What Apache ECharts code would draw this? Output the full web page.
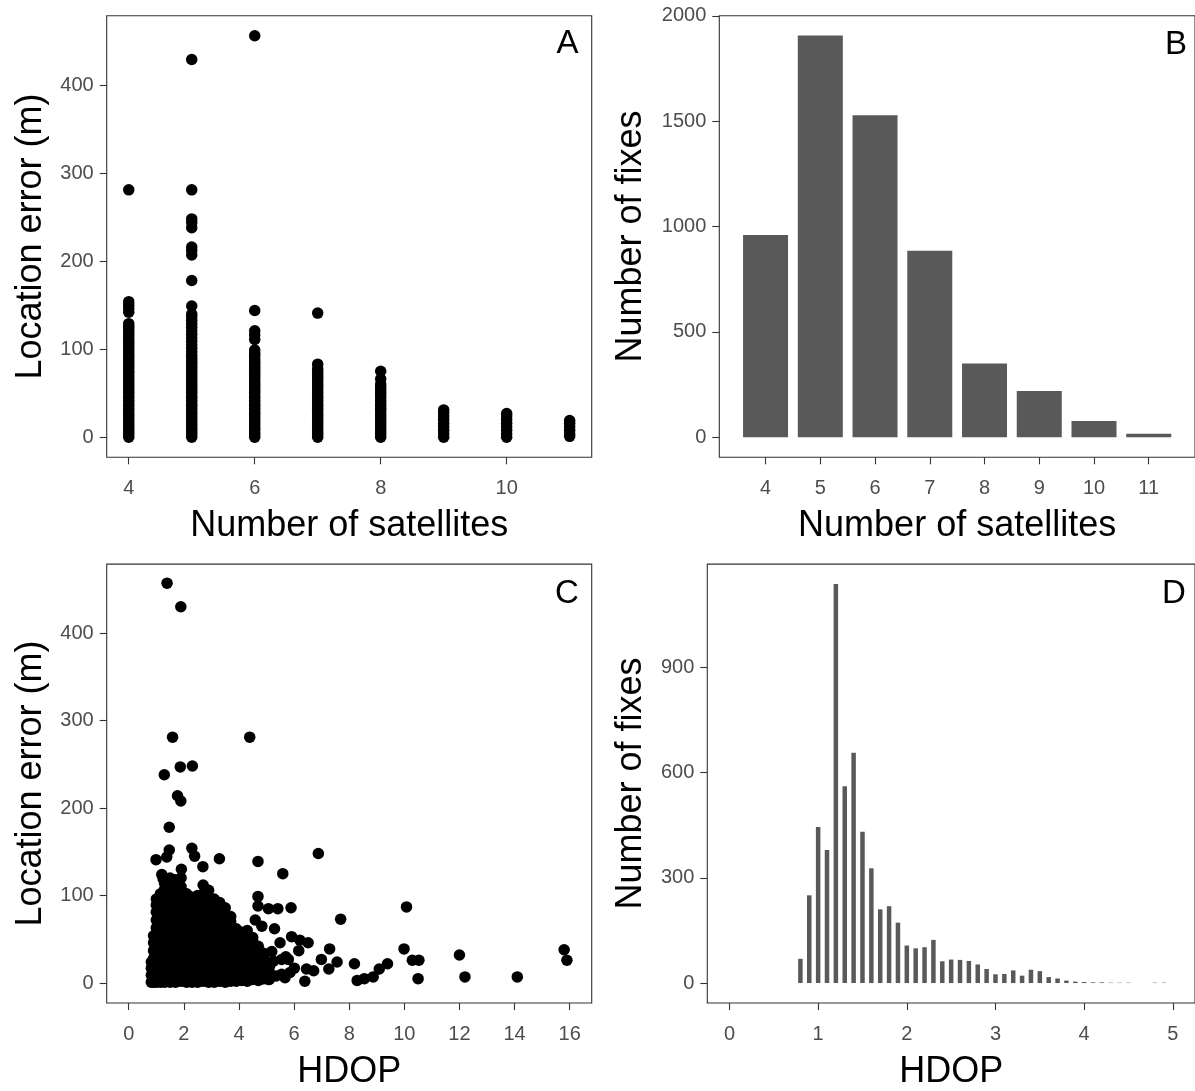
<!DOCTYPE html>
<html>
<head>
<meta charset="utf-8">
<script src="https://cdn.jsdelivr.net/npm/echarts@6/dist/echarts.min.js"></script>
<style>
html,body{margin:0;padding:0;background:#fff;}
#chart{width:1195px;height:1091px;}
</style>
</head>
<body>
<div id="chart"></div>
<script>
// ---------- Panel A: location error by number of satellites ----------
const satTicks = [4, 6, 8, 10];
const errSat4 = [0,3,6,9,12,15,18,21,24,27,30,33,36,39,42,45,48,51,54,57,60,63,66,69,72,75,78,81,84,87,90,93,96,99,102,105,108,111,114,117,120,123,126,129,142,146,150,154,281];
const errSat5 = [0,3,6,9,12,15,18,21,24,27,30,33,36,39,42,45,48,51,54,57,60,63,66,69,72,75,78,81,84,87,90,93,97,101,105,109,113,117,121,125,129,133,137,140,149,178,207,212,216,238,244,248,281,429];
const errSat6 = [0,3,6,9,12,15,18,21,24,27,30,33,36,39,42,45,48,51,54,57,60,63,66,69,72,75,78,81,84,87,90,93,96,99,111,116,121,144,456];
const errSat7 = [0,3,6,9,12,15,18,21,24,27,30,33,36,39,42,45,48,51,54,57,60,63,66,69,72,75,78,83,141];
const errSat8 = [0,3,6,9,12,15,18,21,24,27,30,33,36,39,42,45,48,51,54,57,60,66,75];
const errSat9 = [0,4,8,12,16,20,24,28,31];
const errSat10 = [0,4,8,12,16,20,24,27];
const errSat11 = [1,4,8,12,16,19];

// ---------- Panel B: number of fixes by number of satellites ----------
const satCats = [4, 5, 6, 7, 8, 9, 10, 11];
const fixCounts = [960, 1906, 1528, 885, 350, 219, 77, 16];
const fixTicks = [0, 500, 1000, 1500, 2000];

// ---------- Panel C: location error vs HDOP ----------
const hdopTicksC = [0, 2, 4, 6, 8, 10, 12, 14, 16];
const errTicks = [0, 100, 200, 300, 400];
// dense cloud: HDOP column values and the errors observed in each column
const cloudHdop = [0.82, 0.9, 1.0, 1.15, 1.3, 1.5, 1.7, 1.9, 2.1, 2.3, 2.5, 2.7, 2.9, 3.1, 3.3, 3.5, 3.7, 3.9, 4.1, 4.3, 4.5, 4.7, 4.9, 5.1];
const cloudErr = [
  [1, 9, 17, 24],
  [1, 10, 19, 28, 37, 46, 54],
  [1, 9, 18, 27, 36, 45, 54, 63, 72, 81, 89, 96],
  [1, 10, 19, 28, 37, 46, 55, 64, 73, 82, 91, 102],
  [1, 9, 18, 27, 36, 45, 54, 63, 72, 81, 90, 99, 107, 114],
  [1, 10, 19, 28, 37, 46, 55, 64, 73, 82, 91, 100, 110, 120],
  [1, 9, 18, 27, 36, 45, 54, 63, 72, 81, 90, 99, 108, 118],
  [2, 11, 20, 29, 38, 47, 56, 65, 74, 83, 92, 101, 110, 120],
  [1, 9, 18, 27, 36, 45, 54, 63, 72, 81, 90, 102],
  [1, 10, 19, 28, 37, 46, 55, 64, 73, 82, 90, 98],
  [1, 9, 18, 27, 36, 45, 54, 63, 72, 81, 91, 100],
  [2, 11, 20, 29, 38, 47, 56, 65, 74, 83, 92, 102, 112],
  [1, 9, 18, 27, 36, 45, 54, 63, 72, 81, 90, 98, 106],
  [1, 10, 19, 28, 37, 46, 55, 64, 73, 82, 89, 96],
  [2, 11, 20, 29, 38, 47, 56, 65, 74, 83, 92],
  [1, 9, 18, 27, 36, 45, 54, 63, 72, 80, 86],
  [2, 10, 19, 28, 37, 46, 55, 64, 70, 76],
  [2, 11, 20, 29, 38, 46, 54, 62],
  [3, 12, 21, 30, 39, 48, 58],
  [2, 11, 20, 29, 38, 47, 54, 60],
  [4, 13, 22, 31, 40, 47, 52],
  [3, 12, 21, 30, 36, 42],
  [5, 14, 22, 28, 34],
  [4, 12, 18, 22]
];
// scattered fixes outside the dense cloud
const sparseHdop = [1.39,1.89,1.59,4.39,1.29,1.87,2.31,1.77,1.89,1.47,0.99,1.38,1.47,2.29,2.39,2.69,3.29,4.69,6.88,5.59,7.69,10.08,9.99,10.29,10.53,10.5,12.0,12.2,14.1,15.8,15.9,8.19,8.29,8.55,8.87,9.09,9.39,7.29,6.99,7.26,7.56,6.39,6.45,6.71,5.89,5.41,5.07,4.69,4.69,4.59,4.83,5.29,5.49,5.91,6.21,6.51,6.17,5.19,5.55,5.79,6.01,5.67,5.07,4.77,5.55,1.25,1.91,1.2,4.8,5.0,5.25,5.35,5.7,5.85];
const sparseErr  = [457,430,281,281,238,247,248,214,208,178,141,144,152,154,145,133,142,139,148,125,73,87,39,26,26,5,32,7,7,38,26,22,3,5,7,16,22,39,27,16,24,2,16,14,86,85,85,99,88,72,65,62,46,53,49,46,37,36,27,27,17,6,4,4,10,119,130,124,20,14,25,8,30,12];

// ---------- Panel D: number of fixes by HDOP ----------
const hdopTicksD = [0, 1, 2, 3, 4, 5];
const hdopBins = [0.8,0.9,1.0,1.1,1.2,1.3,1.4,1.5,1.6,1.7,1.8,1.9,2.0,2.1,2.2,2.3,2.4,2.5,2.6,2.7,2.8,2.9,3.0,3.1,3.2,3.3,3.4,3.5,3.6,3.7,3.8,3.9,4.0,4.1,4.2,4.3,4.4,4.5,4.6,4.7,4.8,4.9];
const hdopCounts = [69,250,445,379,1137,561,656,431,327,210,219,172,107,99,102,123,62,67,66,63,53,40,25,26,36,21,38,34,17,13,7,4,3,2,2,1,1,1,0,0,1,1];
const fixTicksD = [0, 300, 600, 900];

// ---------- build series data ----------
const satErrCols = [errSat4, errSat5, errSat6, errSat7, errSat8, errSat9, errSat10, errSat11];
const panelA = [];
satErrCols.forEach((col, i) => col.forEach(v => panelA.push([satCats[i], v])));
const panelB = satCats.map((s, i) => [s, fixCounts[i]]);
const panelC = [];
cloudHdop.forEach((h, i) => cloudErr[i].forEach(v => panelC.push([h, v])));
sparseHdop.forEach((h, i) => panelC.push([h, sparseErr[i]]));
const panelD = hdopBins.map((h, i) => [h, hdopCounts[i]]);

const FONT = '"Liberation Sans", Arial, Helvetica, sans-serif';
const frame = '#333333';
const plain = v => String(v);

function grid(left, top, width, height) {
  return { left, top, width, height, show: true, borderColor: frame, borderWidth: 1.1, backgroundColor: 'transparent' };
}
function xAx(gi, min, max, ticks, name) {
  return {
    type: 'value', gridIndex: gi, min, max, name, nameLocation: 'middle', nameGap: 51,
    nameTextStyle: { fontFamily: FONT, fontSize: 36, color: '#000' },
    axisLine: { show: false, onZero: false },
    axisTick: { show: true, length: 7, customValues: ticks, lineStyle: { color: frame, width: 1.1 } },
    axisLabel: { show: true, customValues: ticks, formatter: plain, margin: 21, fontFamily: FONT, fontSize: 20, color: '#4D4D4D' },
    splitLine: { show: false }
  };
}
function yAx(gi, min, max, ticks, name, gap) {
  return {
    type: 'value', gridIndex: gi, min, max, name, nameLocation: 'middle', nameGap: gap,
    nameTextStyle: { fontFamily: FONT, fontSize: 36, color: '#000' },
    axisLine: { show: false, onZero: false },
    axisTick: { show: true, length: 7, customValues: ticks, lineStyle: { color: frame, width: 1.1 } },
    axisLabel: { show: true, customValues: ticks, formatter: plain, margin: 13, fontFamily: FONT, fontSize: 20, color: '#4D4D4D' },
    splitLine: { show: false }
  };
}
function tag(text, x, y) {
  return { type: 'text', x, y, style: { text, fontFamily: FONT, fontSize: 33, fill: '#000', align: 'center', verticalAlign: 'middle' } };
}

const chart = echarts.init(document.getElementById('chart'), null, { renderer: 'canvas' });
chart.setOption({
  animation: false,
  backgroundColor: '#fff',
  grid: [
    grid(106.7, 15.7, 485, 441.6),
    grid(719.3, 15.7, 478, 441.6),
    grid(106.7, 564.1, 485, 441.6),
    grid(707.3, 564.1, 490, 441.6)
  ],
  xAxis: [
    xAx(0, 3.65, 11.35, satTicks, 'Number of satellites'),
    xAx(1, 3.155, 11.845, satCats, 'Number of satellites'),
    xAx(2, -0.8, 16.8, hdopTicksC, 'HDOP'),
    xAx(3, -0.25, 5.25, hdopTicksD, 'HDOP')
  ],
  yAxis: [
    yAx(0, -22.8, 478.8, errTicks, 'Location error (m)', 58),
    yAx(1, -95.25, 2000.25, fixTicks, 'Number of fixes', 70),
    yAx(2, -22.8, 478.8, errTicks, 'Location error (m)', 58),
    yAx(3, -56.85, 1193.85, fixTicksD, 'Number of fixes', 58)
  ],
  series: [
    { type: 'scatter', xAxisIndex: 0, yAxisIndex: 0, data: panelA, symbolSize: 11.5, itemStyle: { color: '#000', opacity: 1 }, silent: true },
    { type: 'bar', xAxisIndex: 1, yAxisIndex: 1, data: panelB, barWidth: 45, itemStyle: { color: '#595959' }, silent: true },
    { type: 'scatter', xAxisIndex: 2, yAxisIndex: 2, data: panelC, symbolSize: 11.5, itemStyle: { color: '#000', opacity: 1 }, silent: true },
    { type: 'bar', xAxisIndex: 3, yAxisIndex: 3, data: panelD, barWidth: 4.5, itemStyle: { color: '#595959' }, silent: true }
  ],
  graphic: [
    tag('A', 567.5, 44),
    tag('B', 1176, 45),
    tag('C', 567, 593.5),
    tag('D', 1174, 593.5)
  ]
});
</script>
</body>
</html>
